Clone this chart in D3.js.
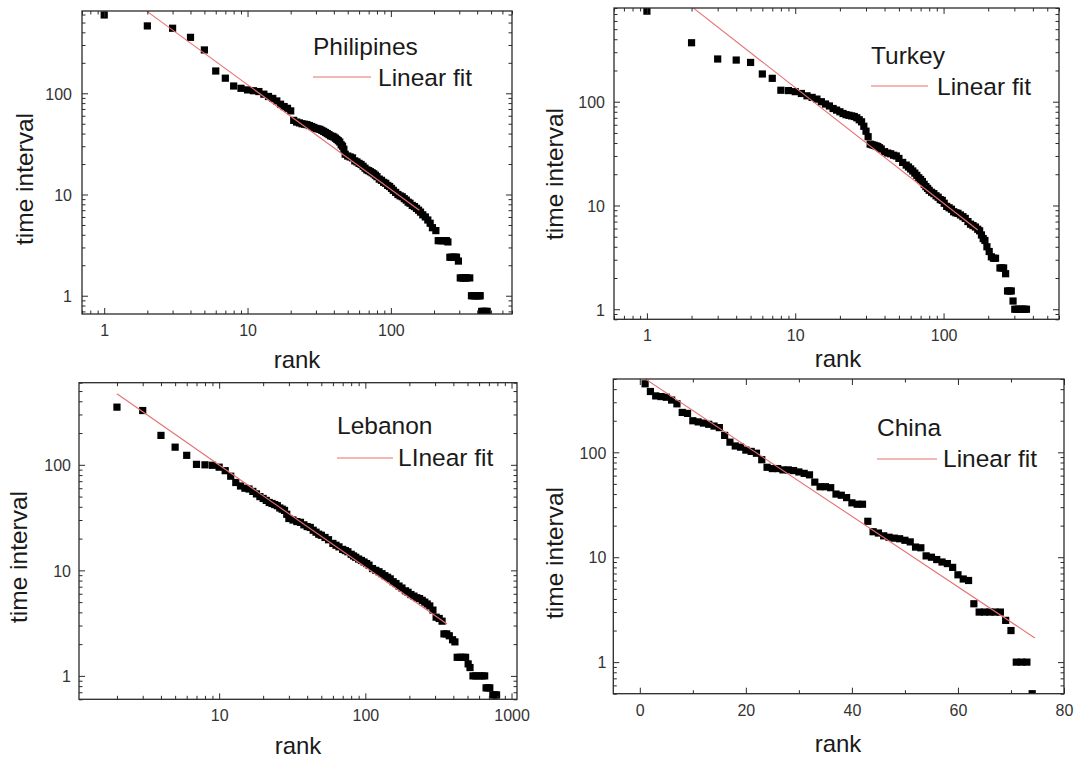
<!DOCTYPE html>
<html><head><meta charset="utf-8">
<script src="https://cdn.jsdelivr.net/npm/d3@7"></script>
<style>
body{margin:0;background:#fff}
svg{display:block}
text{font-family:Arial,"Liberation Sans",sans-serif}
</style>
</head><body>
<svg id="c" width="1075" height="760"></svg>
<script>
// ---------- data ----------
const phRank = [1,2,3,4,5,6,7,8,9,10,11,12,13,14,15,16,17,18,19,20,21,22,23,24,25,26,27,28,29,30,31,32,33,34,35,36,37,38,39,40,41,42,43,44,45,46,47,48,50,52,54,56,58,60,62,64,66,68,70,72,74,76,78,80,83,86,89,92,95,98,101,104,108,112,116,120,124,128,132,136,141,146,151,156,161,167,174,181,188,195,206,214,222,230,238,244,250,258,266,274,282,287,296,305,314,322,330,338,355,365,375,385,395,405,415,420,430,440,450,460,470];
const phValue = [594,463,439,357,268,166,141,118,112,108,106,104,98,93,89,84,78,74,71,67,54,52,51,50,49.5,49,48,47,46,45,44.5,44,43,42,41,40,39,38,37.5,37,36,35,34,33,31,30,28,25,24,23.5,23,21.5,21,20.3,19.8,19,18.2,17.5,17.2,16.8,16.4,16,15.5,15,14.2,13.8,13.2,12.9,12.3,12,11.5,11,10.5,10,9.7,9.5,9.1,8.8,8.4,8.2,7.8,7.6,7.3,7,6.7,6.3,6,5.6,5.2,4.7,4.4,3.5,3.5,3.5,3.5,3.5,3.4,2.4,2.4,2.4,2.4,2.4,2.2,1.5,1.5,1.5,1.5,1.5,1.5,1,1,1,1,1,1,1,0.7,0.7,0.7,0.7,0.7,0.7];
const phFitRank = [2,158];
const phFitValue = [641,7.0];

const trRank = [1,2,3,4,5,6,7,8,9,10,11,12,13,14,15,16,17,18,19,20,21,22,23,24,25,26,27,28,29,30,31,32,33,34,35,36,37,38,40,42,44,46,48,50,53,56,58,60,62,64,66,68,70,72,74,76,78,80,83,86,89,92,95,98,101,105,109,113,117,121,125,130,135,140,146,152,158,164,170,175,180,185,190,196,203,210,217,224,240,247,254,262,270,278,286,294,302,312,322,332,342,352,362];
const trValue = [746,370,258,252,239,185,168,129,128,125,120,114,110,106,100,95,91,86,83,80,77,75,74,73,72,70,67,64,58,52,46,39,38.5,38,37.5,37,36,35,33,32,31.5,30.5,30,28.4,26,24.5,23.5,22.5,21.5,20.5,19.5,18.5,17.8,17,16,15.2,14.6,14,13.4,13,12.4,12,11.4,11.2,10.5,9.8,9.5,9.2,8.7,8.5,8.4,8.1,7.8,7.5,7,6.6,6.4,6.2,5.9,5.7,5.2,4.8,4.6,4,3.6,3.2,3.1,3.1,2.5,2.5,2.5,2.2,1.5,1.5,1.5,1.2,1,1,1,1,1,1,1];
const trFitRank = [2.07,170];
const trFitValue = [793,5.8];

const lbRank = [2,3,4,5,6,7,8,9,10,11,12,13,14,15,16,17,18,19,20,21,22,23,24,25,26,27,28,29,30,32,34,36,38,40,42,44,46,48,50,53,56,60,63,66,70,73,76,80,83,86,90,94,98,102,106,112,118,124,130,136,142,148,155,162,170,178,188,196,205,215,225,235,245,255,265,276,290,305,320,335,345,360,375,395,410,425,445,465,485,505,520,545,570,600,630,655,670,690,710,745,770,790];
const lbValue = [352,327,190,147,123,101,100,99,95,88,78,68,63,60,59,56,53,50,48,46,44,43,42,41,39,38,37,34,31,30,29,28.5,27,26,25.5,24,23,22,21.5,20.5,19.5,18,17.3,16.7,15.8,15.4,15,14.2,13.7,13.3,12.8,12.4,12,11.6,11.2,10.4,10,9.7,9.3,8.9,8.6,8.3,7.8,7.5,7.1,6.8,6.4,6.2,5.9,5.7,5.5,5.4,5.2,5,4.8,4.6,4.2,3.6,3.5,3.3,2.5,2.5,2.4,2.2,2.1,1.5,1.5,1.5,1.5,1.3,1.2,1,1,1,1,1,0.77,0.77,0.77,0.66,0.66,0.66];
const lbFitRank = [2,362];
const lbFitValue = [471,3.1];

const cnRank = [1,2,3,4,5,6,7,8,9,10,11,12,13,14,15,16,17,18,19,20,21,22,23,24,25,26,27,28,29,30,31,32,33,34,35,36,37,38,39,40,41,42,43,44,45,46,47,48,49,50,51,52,53,54,55,56,57,58,59,60,61,62,63,64,65,66,67,68,69,70,71,72,73,74];
const cnValue = [450,380,345,340,335,315,290,240,235,200,195,190,185,178,172,145,125,115,112,105,102,98,85,72,70,70,68,68,67,65,63,61,52,47,47,46,40,39,37,33,32,32,22,17.5,17,16,15.5,15.2,15,14.5,14,12.5,12.3,10.3,10,9.5,9,8.7,8,6.8,6.2,6.0,3.6,3,3,3,3,3,2.5,2,1,1,1,0.5];
const cnFitRank = [1,74.5];
const cnFitValue = [502,1.7];

const logTicks3 = [1,10,100];
const lbXTicks = [10,100,1000];
const cnXTicks = [0,20,40,60,80];
const cnXMinor = [10,30,50,70];

// ---------- layout ----------
const panels = [
  {name:"Philipines", fit:"Linear fit", rank:phRank, value:phValue, fr:phFitRank, fv:phFitValue,
   box:{l:82,r:512,t:11,b:314}, xLog:true, xDom:[0.7,700], yDom:[0.66,650], xTicks:logTicks3, yTicks:logTicks3,
   ylPad:10, xTitle:[297,368], yTitle:[33,179], leg:{x:313,y1:55,ly:77,tx:378,y2:86,lw:58}},
  {name:"Turkey", fit:"Linear fit", rank:trRank, value:trValue, fr:trFitRank, fv:trFitValue,
   box:{l:614,r:1059,t:8,b:319.3}, xLog:true, xDom:[0.6,600], yDom:[0.8,800], xTicks:logTicks3, yTicks:logTicks3,
   ylPad:9, xTitle:[838,367], yTitle:[563,174], leg:{x:871,y1:64,ly:86,tx:937,y2:95,lw:57}},
  {name:"Lebanon", fit:"LInear fit", rank:lbRank, value:lbValue, fr:lbFitRank, fv:lbFitValue,
   box:{l:79,r:517,t:382.7,b:699.3}, xLog:true, xDom:[1.1,1090], yDom:[0.6,600], xTicks:lbXTicks, yTicks:logTicks3,
   ylPad:8, xTitle:[298,754], yTitle:[27,557], leg:{x:337,y1:434,ly:458,tx:398,y2:466,lw:56}},
  {name:"China", fit:"Linear fit", rank:cnRank, value:cnValue, fr:cnFitRank, fv:cnFitValue,
   box:{l:613.3,r:1064,t:379,b:693.7}, xLog:false, xDom:[-5,80], yDom:[0.5,500], xTicks:cnXTicks, xMinor:cnXMinor, yTicks:logTicks3,
   ylPad:7, xTitle:[838,752], yTitle:[563,553], leg:{x:877,y1:436,ly:459,tx:943,y2:467,lw:60}}
];

const RED = "#e8706f";
const INK = "#2a2a2a";
const MS = 7.2;

function logMinor(dom){
  const out=[];
  for(let e=Math.floor(Math.log10(dom[0]))-1;e<=Math.ceil(Math.log10(dom[1]));e++){
    for(let k=2;k<=9;k++){const v=k*Math.pow(10,e); if(v>=dom[0]*0.999&&v<=dom[1]*1.001) out.push(v);}
  }
  return out;
}

const svg = d3.select("#c");
const defs = svg.append("defs");

panels.forEach((p,i)=>{
  const B=p.box;
  const x = (p.xLog? d3.scaleLog(): d3.scaleLinear()).domain(p.xDom).range([B.l,B.r]);
  const y = d3.scaleLog().domain(p.yDom).range([B.b,B.t]);
  const g = svg.append("g");
  const cid="clip"+i;
  defs.append("clipPath").attr("id",cid).append("rect")
    .attr("x",B.l).attr("y",B.t).attr("width",B.r-B.l).attr("height",B.b-B.t);

  // points
  g.append("g").attr("clip-path",`url(#${cid})`)
    .selectAll("rect").data(d3.zip(p.rank,p.value)).join("rect")
    .attr("x",d=>x(d[0])-MS/2).attr("y",d=>y(d[1])-MS/2)
    .attr("width",MS).attr("height",MS).attr("fill","#000");

  // fit line
  g.append("path").attr("clip-path",`url(#${cid})`)
    .datum(d3.zip(p.fr,p.fv))
    .attr("d",d3.line().x(d=>x(d[0])).y(d=>y(d[1])))
    .attr("fill","none").attr("stroke",RED).attr("stroke-width",1.1);

  // axes
  const xMinor = p.xLog? logMinor(p.xDom) : p.xMinor;
  const yMinor = logMinor(p.yDom);
  const fmt = d=>String(d);
  const style = sel=>{sel.select(".domain").remove(); sel.selectAll("line").attr("stroke",INK).attr("stroke-width",1);};

  g.append("g").attr("transform",`translate(0,${B.b})`)
    .call(d3.axisBottom(x).tickValues(xMinor).tickSize(-3.5).tickFormat("")).call(style);
  const xb = g.append("g").attr("transform",`translate(0,${B.b})`)
    .call(d3.axisBottom(x).tickValues(p.xTicks).tickSize(-6).tickFormat(fmt)).call(style);
  xb.selectAll("text").attr("y",22).attr("dy",null).attr("font-size",16).attr("fill","#333");
  g.append("g").attr("transform",`translate(0,${B.t})`)
    .call(d3.axisTop(x).tickValues(xMinor).tickSize(-3.5).tickFormat("")).call(style);
  g.append("g").attr("transform",`translate(0,${B.t})`)
    .call(d3.axisTop(x).tickValues(p.xTicks).tickSize(-6).tickFormat("")).call(style);
  g.append("g").attr("transform",`translate(${B.l},0)`)
    .call(d3.axisLeft(y).tickValues(yMinor).tickSize(-3.5).tickFormat("")).call(style);
  const yl = g.append("g").attr("transform",`translate(${B.l},0)`)
    .call(d3.axisLeft(y).tickValues(p.yTicks).tickSize(-6).tickFormat(fmt)).call(style);
  yl.selectAll("text").attr("x",-p.ylPad).attr("dy","0.36em").attr("font-size",16).attr("fill","#333");
  g.append("g").attr("transform",`translate(${B.r},0)`)
    .call(d3.axisRight(y).tickValues(yMinor).tickSize(-3.5).tickFormat("")).call(style);
  g.append("g").attr("transform",`translate(${B.r},0)`)
    .call(d3.axisRight(y).tickValues(p.yTicks).tickSize(-6).tickFormat("")).call(style);

  g.append("rect").attr("x",B.l).attr("y",B.t).attr("width",B.r-B.l).attr("height",B.b-B.t)
    .attr("fill","none").attr("stroke",INK).attr("stroke-width",1.3);

  g.append("text").attr("x",p.xTitle[0]).attr("y",p.xTitle[1]).attr("text-anchor","middle")
    .attr("font-size",24).attr("fill","#1a1a1a").text("rank");
  g.append("text").attr("transform",`translate(${p.yTitle[0]},${p.yTitle[1]}) rotate(-90)`)
    .attr("text-anchor","middle").attr("font-size",24.5).attr("fill","#1a1a1a").text("time interval");

  const L=p.leg;
  g.append("text").attr("x",L.x).attr("y",L.y1).attr("font-size",24.5).attr("fill","#1a1a1a").text(p.name);
  g.append("line").attr("x1",L.x).attr("x2",L.x+L.lw).attr("y1",L.ly).attr("y2",L.ly)
    .attr("stroke",RED).attr("stroke-width",1.2);
  g.append("text").attr("x",L.tx).attr("y",L.y2).attr("font-size",24.5).attr("fill","#1a1a1a").text(p.fit);
});
</script>
</body></html>
